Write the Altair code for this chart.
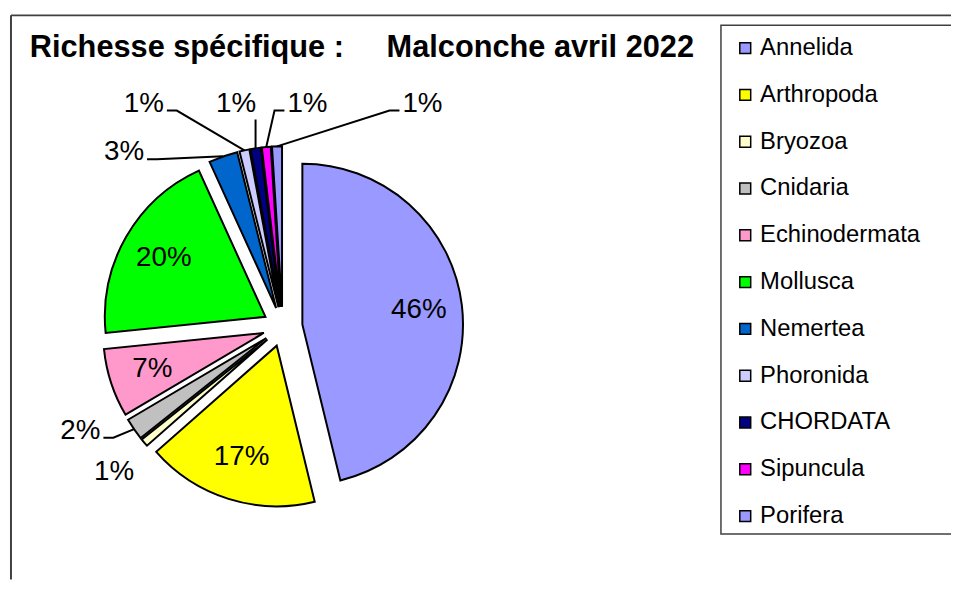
import math
import altair as alt
import pandas as pd

# ---------------- data ----------------
categories = ["Annelida", "Arthropoda", "Bryozoa", "Cnidaria", "Echinodermata",
              "Mollusca", "Nemertea", "Phoronida", "CHORDATA", "Sipuncula", "Porifera"]
values = [46.2, 17.3, 0.8, 2.2, 6.9, 19.8, 2.9, 1.0, 1.0, 0.9, 1.0]
colors = ["#9999FF", "#FFFF00", "#FFFFCC", "#C0C0C0", "#FF99CC", "#00FF00",
          "#0066CC", "#CCCCFF", "#000080", "#FF00FF", "#9999FF"]
title_text = "Richesse sp\u00e9cifique :\u00a0\u00a0\u00a0\u00a0\u00a0Malconche avril 2022"

# ---------------- layout (label placement, not data) ----------------
label_inside = [True, True, False, False, True, True, False, False, False, False, False]
outside_label_px = {"Bryozoa": (-170, 147), "Cnidaria": (-204, 105), "Nemertea": (-160, -176),
                    "Phoronida": (-140, -225), "CHORDATA": (-47, -225),
                    "Sipuncula": (25, -225), "Porifera": (141, -225)}
has_leader = [False, False, False, True, False, False, True, True, True, True, True]

W, H = 951, 574          # whole drawing
CX, CY = 277, 319        # pie centre (px)
R = 162                  # pie radius (px), also one scale unit
EXPLODE = 20             # px
FONT = "Liberation Sans"
LABEL_SIZE = 28

total = sum(values)
rows, labels, leaders = [], [], []
cum = 0.0
for i, (c, v) in enumerate(zip(categories, values)):
    t0, t1 = cum / total * 100, (cum + v) / total * 100
    cum += v
    mid = (t0 + t1) / 200 * 2 * math.pi
    ux, uy = math.sin(mid), math.cos(mid)
    ex, ey = EXPLODE / R * ux, EXPLODE / R * uy
    share = v / total
    rows.append({"category": c, "t0": t0, "t1": t1, "ex": ex, "ey": ey})
    if label_inside[i]:
        lx, ly = ex + 0.73 * ux, ey + 0.73 * uy
    else:
        px, py = outside_label_px[c]
        lx, ly = px / R, -py / R
    labels.append({"category": c, "share": share, "lx": lx, "ly": ly})
    if has_leader[i]:
        ax, ay = ex + ux, ey + uy
        digits = len(str(round(share * 100)))
        hw = (digits * 0.556 + 0.889) * LABEL_SIZE / 2
        side = 1 if ax > lx else -1
        edge_x = lx + side * (hw + 3) / R
        if abs(ax - edge_x) * R < 15:
            pts = [(ax, ly - 16 / R), (ax, ay)]
        else:
            pts = [(edge_x, ly - 7 / R), (edge_x + side * 10 / R, ly - 7 / R), (ax, ay)]
        for k, (x, y) in enumerate(pts):
            leaders.append({"category": c, "idx": k, "x": x, "y": y})

slices = pd.DataFrame(rows)
label_df = pd.DataFrame(labels)
leader_df = pd.DataFrame(leaders)

x_scale = alt.Scale(domain=[-CX / R, (W - CX) / R], zero=False, nice=False)
y_scale = alt.Scale(domain=[-(H - CY) / R, CY / R], zero=False, nice=False)

one = pd.DataFrame({"a": [0]})
frame_left = alt.Chart(one).mark_rule(color="#404040", strokeWidth=2).encode(
    x=alt.value(3), y=alt.value(5), y2=alt.value(H))
frame_top = alt.Chart(one).mark_rule(color="#404040", strokeWidth=2).encode(
    x=alt.value(3), x2=alt.value(W), y=alt.value(5))
legend_box = alt.Chart(one).mark_rect(fill="white", stroke="#404040", strokeWidth=1.5).encode(
    x=alt.value(719), x2=alt.value(W + 10), y=alt.value(15), y2=alt.value(528))

arcs = alt.Chart(slices).mark_arc(outerRadius=R, stroke="black", strokeWidth=2).encode(
    theta=alt.Theta("t0:Q", scale=alt.Scale(domain=[0, 100], range=[0, 2 * math.pi]), stack=False),
    theta2="t1:Q",
    x=alt.X("ex:Q", scale=x_scale, axis=None),
    y=alt.Y("ey:Q", scale=y_scale, axis=None),
    color=alt.Color("category:N", scale=alt.Scale(domain=categories, range=colors),
                    sort=categories,
                    legend=alt.Legend(orient="none", legendX=731.5, legendY=26, title=None,
                                      symbolType="square", symbolSize=121,
                                      symbolStrokeColor="black", symbolStrokeWidth=1.5,
                                      symbolOpacity=1,
                                      labelFont=FONT, labelFontSize=24, labelColor="black",
                                      labelOffset=3, labelLimit=300, rowPadding=23.2,
                                      padding=0)),
)

leader_lines = alt.Chart(leader_df).mark_line(color="black", strokeWidth=2).encode(
    x=alt.X("x:Q", scale=x_scale, axis=None),
    y=alt.Y("y:Q", scale=y_scale, axis=None),
    detail="category:N",
    order="idx:Q",
)

pct = alt.Chart(label_df).mark_text(font=FONT, fontSize=LABEL_SIZE, color="black",
                                     align="center", baseline="middle").encode(
    x=alt.X("lx:Q", scale=x_scale, axis=None),
    y=alt.Y("ly:Q", scale=y_scale, axis=None),
    text=alt.Text("share:Q", format=".0%"),
)

title = alt.Chart(pd.DataFrame({"t": [title_text]})).mark_text(
    font=FONT, fontSize=31, fontWeight="bold", color="black",
    align="left", baseline="alphabetic").encode(
    x=alt.value(22), y=alt.value(47), text="t:N")

chart = alt.layer(frame_left, frame_top, legend_box, arcs, leader_lines, pct, title).properties(
    width=W, height=H, autosize="none", padding=0
).configure_view(stroke=None)

chart.save("out.html", embed_options={"renderer": "svg", "actions": False})
